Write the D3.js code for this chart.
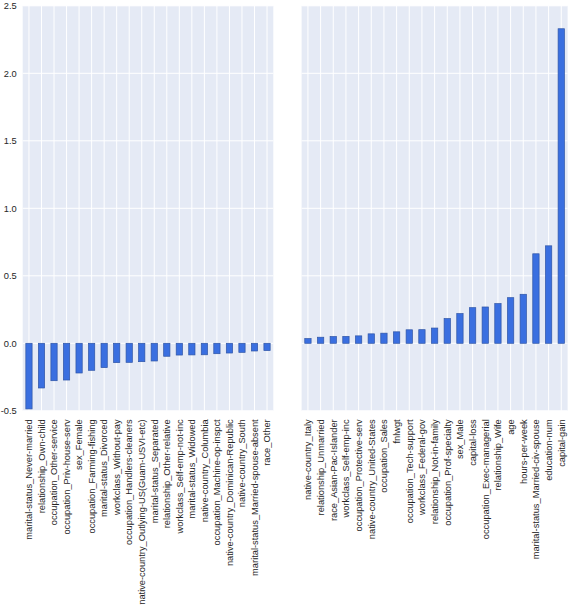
<!DOCTYPE html>
<html>
<head>
<meta charset="utf-8">
<script src="https://cdn.jsdelivr.net/npm/d3@7"></script>
<style>
  html, body { margin: 0; padding: 0; background: #ffffff; }
  svg { display: block; }
  text { font-family: "Liberation Sans", Arial, Helvetica, sans-serif; fill: #262626; }
</style>
</head>
<body>
<svg id="chart" width="568" height="607"></svg>
<script>
// ---- data ----
const leftLabels = [
  "marital-status_Never-married", "relationship_Own-child", "occupation_Other-service",
  "occupation_Priv-house-serv", "sex_Female", "occupation_Farming-fishing",
  "marital-status_Divorced", "workclass_Without-pay", "occupation_Handlers-cleaners",
  "native-country_Outlying-US(Guam-USVI-etc)", "marital-status_Separated",
  "relationship_Other-relative", "workclass_Self-emp-not-inc", "marital-status_Widowed",
  "native-country_Columbia", "occupation_Machine-op-inspct",
  "native-country_Dominican-Republic", "native-country_South",
  "marital-status_Married-spouse-absent", "race_Other"
];
const leftValues = [
  -0.486, -0.331, -0.277, -0.272, -0.220, -0.200, -0.180, -0.143, -0.141, -0.136,
  -0.131, -0.096, -0.087, -0.086, -0.085, -0.077, -0.072, -0.067, -0.057, -0.054
];
const rightLabels = [
  "native-country_Italy", "relationship_Unmarried", "race_Asian-Pac-Islander",
  "workclass_Self-emp-inc", "occupation_Protective-serv", "native-country_United-States",
  "occupation_Sales", "fnlwgt", "occupation_Tech-support", "workclass_Federal-gov",
  "relationship_Not-in-family", "occupation_Prof-specialty", "sex_Male", "capital-loss",
  "occupation_Exec-managerial", "relationship_Wife", "age", "hours-per-week",
  "marital-status_Married-civ-spouse", "education-num", "capital-gain"
];
const rightValues = [
  0.035, 0.045, 0.050, 0.051, 0.055, 0.070, 0.075, 0.085, 0.100, 0.101,
  0.113, 0.183, 0.220, 0.264, 0.269, 0.294, 0.338, 0.363, 0.663, 0.722, 2.33
];
const yTicks = [-0.5, 0.0, 0.5, 1.0, 1.5, 2.0, 2.5];

// ---- layout ----
const svg = d3.select("#chart");
const plotTop = 5.8, plotBottom = 410.8;
const fontSize = 9.3;
const bg = "#e5eaf5";
const barFill = "#3a6fe0";
const barStroke = "#2f55a6";

const y = d3.scaleLinear().domain([-0.5, 2.5]).range([plotBottom, plotTop]);

function panel(x0, x1, labels, values, showY) {
  const g = svg.append("g");
  const x = d3.scaleBand().domain(labels).range([x0, x1])
    .paddingInner(0.5).paddingOuter(0.25);

  g.append("rect")
    .attr("x", x0).attr("y", plotTop)
    .attr("width", x1 - x0).attr("height", plotBottom - plotTop)
    .attr("fill", bg);

  // horizontal grid
  g.append("g").selectAll("line").data(yTicks).join("line")
    .attr("x1", x0).attr("x2", x1)
    .attr("y1", d => y(d)).attr("y2", d => y(d))
    .attr("stroke", "#ffffff").attr("stroke-width", 1);

  // vertical grid
  g.append("g").selectAll("line").data(labels).join("line")
    .attr("x1", d => x(d) + x.bandwidth() / 2).attr("x2", d => x(d) + x.bandwidth() / 2)
    .attr("y1", plotTop).attr("y2", plotBottom)
    .attr("stroke", "#ffffff").attr("stroke-width", 1);

  // bars
  g.append("g").selectAll("rect").data(labels.map((l, i) => ({ l, v: values[i] }))).join("rect")
    .attr("x", d => x(d.l))
    .attr("width", x.bandwidth())
    .attr("y", d => y(Math.max(0, d.v)))
    .attr("height", d => Math.abs(y(d.v) - y(0)))
    .attr("fill", barFill)
    .attr("stroke", barStroke)
    .attr("stroke-width", 0.7);

  // x axis labels
  const xa = g.append("g")
    .attr("transform", `translate(0,${plotBottom})`)
    .call(d3.axisBottom(x).tickSize(0).tickPadding(0));
  xa.select(".domain").remove();
  xa.attr("font-family", null).attr("font-size", null);
  xa.selectAll("text")
    .attr("font-size", fontSize)
    .attr("transform", "rotate(-90)")
    .attr("text-anchor", "end")
    .attr("x", -8.5)
    .attr("y", 0)
    .attr("dy", "0.35em");

  if (showY) {
    const ya = g.append("g")
      .attr("transform", `translate(${x0},0)`)
      .call(d3.axisLeft(y).tickValues(yTicks).tickFormat(d => d3.format(".1f")(d).replace("−", "-")).tickSize(0).tickPadding(6));
    ya.select(".domain").remove();
    ya.attr("font-family", null).attr("font-size", null);
    ya.selectAll("text").attr("font-size", fontSize);
  }
}

panel(22.7, 273.3, leftLabels, leftValues, true);
panel(301.6, 567.6, rightLabels, rightValues, false);
</script>
</body>
</html>
